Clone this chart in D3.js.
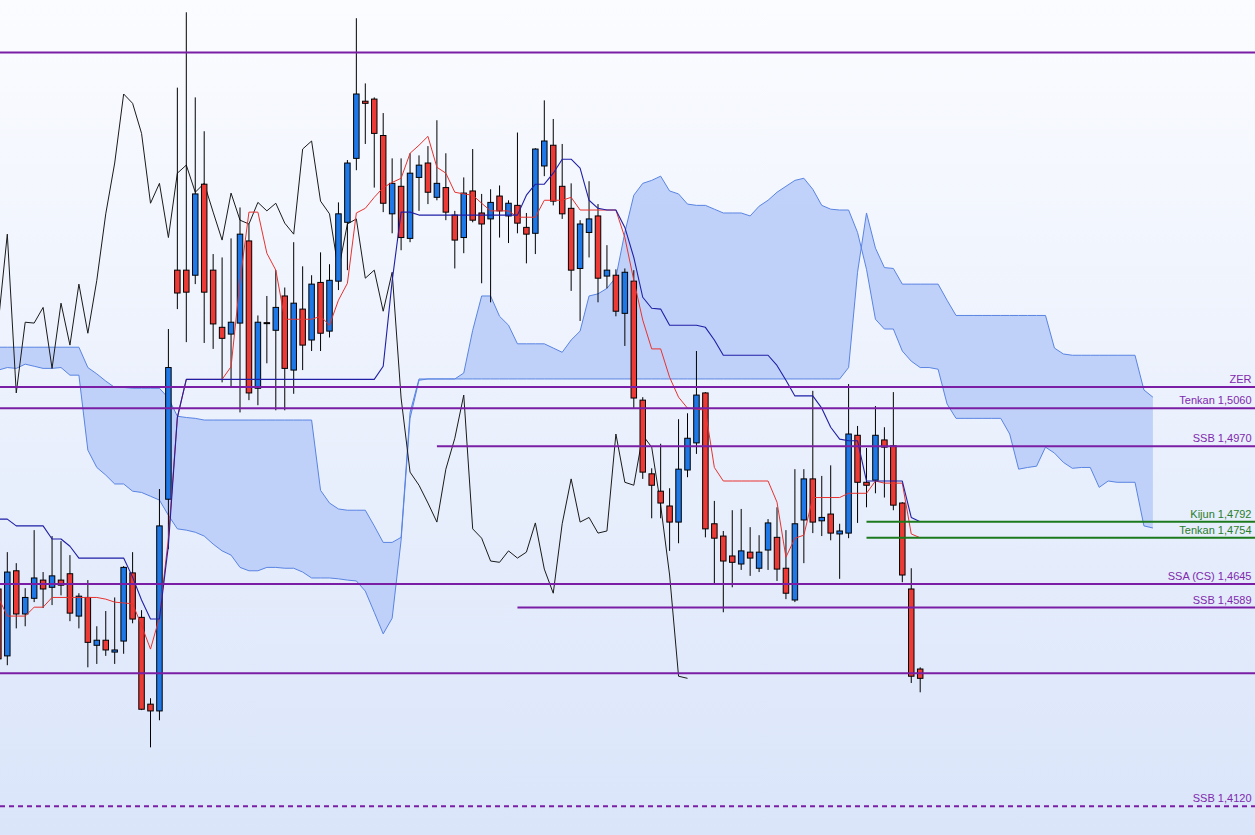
<!DOCTYPE html>
<html>
<head>
<meta charset="utf-8">
<style>
    html, body { margin: 0; padding: 0; overflow: hidden; background: #fff; }
</style>
</head>
<body>
<script src="https://cdn.jsdelivr.net/npm/d3@7"></script>
<script>
    // bar number of the first element in every series below
    let firstBar = -1
    let shift = 26

    let opens = [
        1.4633,1.4475,1.4676,1.4574,1.4611,1.4654,1.4637,1.4654,1.4669,1.4569,
        1.4613,1.4500,1.4512,1.4484,1.4510,1.4671,1.4566,1.4361,1.4345,1.4845,
        1.5386,1.5386,1.5374,1.5589,1.5386,1.5251,1.5235,1.5261,1.5455,1.5107,
        1.5262,1.5244,1.5325,1.5150,1.5294,1.5221,1.5357,1.5242,1.5360,1.5499,
        1.5650,1.5785,1.5790,1.5704,1.5519,1.5584,1.5461,1.5605,1.5639,1.5558,
        1.5581,1.5516,1.5463,1.5573,1.5521,1.5507,1.5561,1.5514,1.5539,1.5487,
        1.5473,1.5632,1.5681,1.5584,1.5532,1.5390,1.5475,1.5514,1.5372,1.5374,
        1.5284,1.5360,1.5079,1.4905,1.4864,1.4829,1.4791,1.4914,1.4978,1.5096,
        1.4787,1.4758,1.4711,1.4692,1.4720,1.4682,1.4725,1.4755,1.4682,1.4607,
        1.4796,1.4893,1.4794,1.4810,1.4763,1.4765,1.4996,1.4885,1.4890,1.4985,
        1.4971,1.4836,1.4633,1.4444]
    let highs = [
        1.4666,1.4720,1.4694,1.4635,1.4772,1.4673,1.4758,1.4746,1.4713,1.4623,
        1.4654,1.4545,1.4581,1.4613,1.4687,1.4720,1.4583,1.4375,1.4869,1.5247,
        1.5817,1.5995,1.5794,1.5714,1.5424,1.5416,1.5461,1.5534,1.5495,1.5279,
        1.5325,1.5386,1.5345,1.5452,1.5395,1.5374,1.5428,1.5400,1.5546,1.5646,
        1.5981,1.5827,1.5794,1.5757,1.5650,1.5650,1.5662,1.5657,1.5679,1.5740,
        1.5662,1.5526,1.5605,1.5672,1.5566,1.5577,1.5586,1.5551,1.5711,1.5521,
        1.5674,1.5787,1.5743,1.5684,1.5591,1.5504,1.5596,1.5542,1.5445,1.5388,
        1.5390,1.5386,1.5086,1.4918,1.4976,1.4871,1.5034,1.5048,1.5195,1.5098,
        1.4841,1.4770,1.4819,1.4822,1.4779,1.4760,1.4798,1.4826,1.4772,1.4916,
        1.4916,1.5101,1.4900,1.4925,1.4787,1.5117,1.5018,1.4966,1.5065,1.5015,
        1.5098,1.4838,1.4682,1.4448]
    let lows = [
        1.4460,1.4453,1.4540,1.4545,1.4602,1.4588,1.4595,1.4618,1.4557,1.4540,
        1.4448,1.4456,1.4475,1.4456,1.4480,1.4552,1.4347,1.4259,1.4323,1.4727,
        1.5294,1.5216,1.5353,1.5214,1.5200,1.5121,1.5109,1.5050,1.5079,1.5067,
        1.5166,1.5055,1.5055,1.5094,1.5150,1.5195,1.5195,1.5227,1.5339,1.5386,
        1.5622,1.5684,1.5581,1.5523,1.5473,1.5433,1.5452,1.5526,1.5542,1.5551,
        1.5504,1.5390,1.5426,1.5499,1.5355,1.5310,1.5463,1.5450,1.5473,1.5402,
        1.5424,1.5608,1.5539,1.5507,1.5337,1.5266,1.5416,1.5310,1.5343,1.5277,
        1.5207,1.5060,1.4893,1.4800,1.4800,1.4723,1.4741,1.4897,1.4952,1.4755,
        1.4647,1.4578,1.4637,1.4678,1.4664,1.4673,1.4678,1.4652,1.4609,1.4602,
        1.4694,1.4765,1.4758,1.4748,1.4657,1.4753,1.4789,1.4826,1.4859,1.4849,
        1.4819,1.4649,1.4411,1.4389]
    let closes = [
        1.4468,1.4673,1.4574,1.4613,1.4659,1.4633,1.4664,1.4642,1.4576,1.4616,
        1.4507,1.4512,1.4489,1.4489,1.4684,1.4562,1.4349,1.4345,1.4782,1.5156,
        1.5332,1.5334,1.5566,1.5334,1.5259,1.5225,1.5263,1.5471,1.5096,1.5263,
        1.5261,1.5298,1.5154,1.5308,1.5209,1.5353,1.5237,1.5362,1.5519,1.5639,
        1.5802,1.5780,1.5709,1.5544,1.5591,1.5463,1.5615,1.5634,1.5570,1.5591,
        1.5523,1.5457,1.5568,1.5504,1.5495,1.5546,1.5526,1.5544,1.5497,1.5471,
        1.5672,1.5691,1.5549,1.5519,1.5386,1.5495,1.5507,1.5367,1.5386,1.5289,
        1.5381,1.5084,1.4909,1.4878,1.4836,1.4791,1.4916,1.4989,1.5091,1.4775,
        1.4753,1.4699,1.4696,1.4723,1.4706,1.4720,1.4789,1.4680,1.4623,1.4787,
        1.4893,1.4791,1.4802,1.4765,1.4770,1.4999,1.4885,1.4878,1.4996,1.4968,
        1.4831,1.4666,1.4427,1.4422]

    let tenkan = [
        1.4613,1.4569,1.4569,1.4569,1.4590,1.4590,1.4613,1.4613,1.4613,1.4613,
        1.4613,1.4613,1.4609,1.4602,1.4600,1.4598,1.4547,1.4491,1.4566,1.4753,
        1.5038,1.5128,1.5128,1.5128,1.5128,1.5128,1.5158,1.5360,1.5523,1.5523,
        1.5426,1.5386,1.5270,1.5270,1.5270,1.5270,1.5277,1.5256,1.5315,1.5355,
        1.5521,1.5532,1.5558,1.5581,1.5593,1.5603,1.5662,1.5681,1.5702,1.5629,
        1.5615,1.5570,1.5566,1.5563,1.5544,1.5526,1.5526,1.5526,1.5511,1.5511,
        1.5511,1.5551,1.5551,1.5551,1.5558,1.5528,1.5528,1.5528,1.5528,1.5528,
        1.5463,1.5362,1.5268,1.5200,1.5200,1.5133,1.5086,1.5060,1.5058,1.5055,
        1.4920,1.4888,1.4888,1.4888,1.4888,1.4888,1.4888,1.4838,1.4708,1.4753,
        1.4760,1.4849,1.4849,1.4849,1.4849,1.4859,1.4859,1.4859,1.4888,1.4883,
        1.4883,1.4883,1.4763,1.4754]
    let kijun = [
        1.4798,1.4798,1.4782,1.4782,1.4782,1.4782,1.4751,1.4751,1.4734,1.4706,
        1.4706,1.4706,1.4706,1.4706,1.4706,1.4661,1.4607,1.4562,1.4562,1.4736,
        1.5038,1.5128,1.5128,1.5128,1.5128,1.5128,1.5128,1.5128,1.5128,1.5128,
        1.5128,1.5128,1.5128,1.5128,1.5128,1.5128,1.5128,1.5128,1.5128,1.5128,
        1.5128,1.5128,1.5128,1.5159,1.5360,1.5523,1.5523,1.5516,1.5516,1.5516,
        1.5516,1.5516,1.5516,1.5516,1.5516,1.5516,1.5516,1.5516,1.5516,1.5563,
        1.5589,1.5589,1.5615,1.5648,1.5648,1.5627,1.5551,1.5532,1.5528,1.5528,
        1.5487,1.5416,1.5322,1.5296,1.5294,1.5256,1.5256,1.5256,1.5256,1.5251,
        1.5221,1.5185,1.5185,1.5185,1.5185,1.5185,1.5185,1.5161,1.5126,1.5089,
        1.5089,1.5089,1.5060,1.5015,1.4987,1.4983,1.4983,1.4888,1.4888,1.4888,
        1.4888,1.4888,1.4802,1.4792]

    // senkou spans, already plotted 26 bars ahead (bar -1 .. 128)
    let spanA = [
        1.5150,1.5156,1.5154,1.5164,1.5159,1.5154,1.5154,1.5156,1.5138,1.5138,
        1.4961,1.4920,1.4902,1.4881,1.4881,1.4864,1.4861,1.4852,1.4843,1.4807,
        1.4775,1.4772,1.4767,1.4758,1.4739,1.4723,1.4713,1.4684,1.4676,1.4676,
        1.4684,1.4684,1.4682,1.4682,1.4673,1.4659,1.4659,1.4659,1.4657,1.4654,
        1.4652,1.4628,1.4578,1.4527,1.4564,1.4748,1.5036,1.5126,1.5129,1.5129,
        1.5129,1.5129,1.5143,1.5244,1.5325,1.5325,1.5277,1.5256,1.5212,1.5212,
        1.5212,1.5212,1.5202,1.5192,1.5221,1.5242,1.5325,1.5330,1.5343,1.5369,
        1.5475,1.5563,1.5591,1.5598,1.5608,1.5573,1.5566,1.5542,1.5539,1.5539,
        1.5530,1.5521,1.5521,1.5521,1.5514,1.5537,1.5551,1.5570,1.5584,1.5598,
        1.5603,1.5577,1.5539,1.5530,1.5528,1.5528,1.5475,1.5388,1.5270,1.5247,
        1.5247,1.5195,1.5171,1.5156,1.5156,1.5152,1.5070,1.5036,1.5036,1.5036,
        1.5036,1.5036,1.5036,1.4999,1.4916,1.4920,1.4923,1.4968,1.4954,1.4932,
        1.4918,1.4920,1.4920,1.4873,1.4888,1.4885,1.4885,1.4885,1.4782,1.4777]
    let spanB = [
        1.5204,1.5204,1.5204,1.5204,1.5204,1.5204,1.5204,1.5204,1.5204,1.5204,
        1.5156,1.5141,1.5124,1.5109,1.5109,1.5107,1.5107,1.5107,1.5107,1.5084,
        1.5041,1.5038,1.5036,1.5032,1.5032,1.5032,1.5032,1.5032,1.5032,1.5032,
        1.5032,1.5032,1.5032,1.5032,1.5032,1.5032,1.4866,1.4836,1.4822,1.4819,
        1.4819,1.4819,1.4782,1.4743,1.4743,1.4755,1.5050,1.5129,1.5129,1.5129,
        1.5129,1.5129,1.5129,1.5129,1.5129,1.5129,1.5129,1.5129,1.5129,1.5129,
        1.5129,1.5129,1.5129,1.5129,1.5129,1.5129,1.5129,1.5129,1.5129,1.5129,
        1.5129,1.5129,1.5129,1.5129,1.5129,1.5129,1.5129,1.5129,1.5129,1.5129,
        1.5129,1.5129,1.5129,1.5129,1.5129,1.5129,1.5129,1.5129,1.5129,1.5129,
        1.5129,1.5129,1.5129,1.5129,1.5129,1.5156,1.5381,1.5521,1.5438,1.5392,
        1.5390,1.5353,1.5353,1.5353,1.5353,1.5353,1.5315,1.5279,1.5279,1.5279,
        1.5279,1.5279,1.5279,1.5279,1.5279,1.5279,1.5279,1.5279,1.5202,1.5188,
        1.5185,1.5185,1.5185,1.5185,1.5185,1.5185,1.5185,1.5185,1.5103,1.5086]

    // horizontal levels; from = bar where the line starts (null = whole width)
    let levelPrices = [1.5900, 1.5110, 1.5060, 1.4970, 1.4792, 1.4754, 1.4645, 1.4589, 1.4434, 1.4120]
    let levelLabels = ["", "ZER", "Tenkan 1,5060", "SSB 1,4970", "Kijun 1,4792", "Tenkan 1,4754",
                       "SSA (CS) 1,4645", "SSB 1,4589", "", "SSB 1,4120"]
    let levelFrom = [null, null, null, 48, 96, 96, null, 57, null, null]
    let levelKind = ["past", "past", "past", "past", "current", "current", "past", "past", "past", "target"]

    let W = 1255, H = 835
    let purple = "#7a1fa5", green = "#1c7a1c"

    let svg = d3.select("body").append("svg").attr("width", W).attr("height", H)

    let grad = svg.append("defs").append("linearGradient").attr("id", "bg")
                  .attr("x1", 0).attr("y1", 0).attr("x2", 0).attr("y2", 1)
    grad.append("stop").attr("offset", "0%").attr("stop-color", "#fbfcff")
    grad.append("stop").attr("offset", "100%").attr("stop-color", "#dae5fa")
    svg.append("rect").attr("width", W).attr("height", H).attr("fill", "url(#bg)")

    let x = d3.scaleLinear().domain([0, 102]).range([7.3, 920.2])
    let y = d3.scaleLinear().domain([1.4052, 1.6024]).range([H, 0])

    let asPoints = (arr, start) => arr.map((v, i) => ({ bar: i + start, v: v }))
    let lineGen = d3.line().x(d => x(d.bar)).y(d => y(d.v))

    // cloud
    let cloud = spanA.map((a, i) => ({ bar: i + firstBar, a: a, b: spanB[i] }))
    svg.append("path").datum(cloud)
       .attr("d", d3.area().x(d => x(d.bar)).y0(d => y(d.a)).y1(d => y(d.b)))
       .attr("fill", "#bacdf8").attr("fill-opacity", 0.9)
    let drawLine = (pts, color, w) => {
        svg.append("path").datum(pts).attr("d", lineGen)
           .attr("fill", "none").attr("stroke", color).attr("stroke-width", w)
           .attr("stroke-linejoin", "round")
    }
    drawLine(asPoints(spanA, firstBar), "#5a84e2", 1)
    drawLine(asPoints(spanB, firstBar), "#5a84e2", 1)

    // chikou: closes plotted 26 bars back
    drawLine(asPoints(closes.slice(shift), firstBar), "#1a1a1a", 1)

    // candles
    let candles = opens.map((o, i) => ({ bar: i + firstBar, o: o, h: highs[i], l: lows[i], c: closes[i] }))
    let bw = 5.5
    let g = svg.append("g")
    g.selectAll("line.wick").data(candles).enter().append("line")
     .attr("x1", d => x(d.bar)).attr("x2", d => x(d.bar))
     .attr("y1", d => y(d.h)).attr("y2", d => y(d.l))
     .attr("stroke", "#000").attr("stroke-width", 1)
    g.selectAll("rect.body").data(candles).enter().append("rect")
     .attr("x", d => x(d.bar) - bw / 2).attr("width", bw)
     .attr("y", d => y(Math.max(d.o, d.c)))
     .attr("height", d => Math.max(1, Math.abs(y(d.o) - y(d.c))))
     .attr("fill", d => d.c >= d.o ? "#1f78e8" : "#ec3b36")
     .attr("stroke", "#000").attr("stroke-width", 1)

    drawLine(asPoints(tenkan, firstBar), "#e8322e", 1)
    drawLine(asPoints(kijun, firstBar), "#1f1fa6", 1.1)

    // levels
    levelPrices.forEach((p, i) => {
        let yy = y(p)
        let color = levelKind[i] == "current" ? green : purple
        let x0 = levelFrom[i] == null ? 0 : x(levelFrom[i])
        let ln = svg.append("line").attr("x1", x0).attr("x2", W).attr("y1", yy).attr("y2", yy)
                    .attr("stroke", color).attr("stroke-width", 2)
        if (levelKind[i] == "target") ln.attr("stroke-dasharray", "5,4")
        if (levelLabels[i] != "") {
            svg.append("text").attr("x", 1251.5).attr("y", yy - 4)
               .attr("text-anchor", "end")
               .attr("font-family", "'Liberation Sans', Arial, sans-serif")
               .attr("font-size", 11)
               .attr("fill", levelKind[i] == "current" ? "#2a7d2a" : "#8029ad")
               .text(levelLabels[i])
        }
    })
</script>
</body>
</html>
